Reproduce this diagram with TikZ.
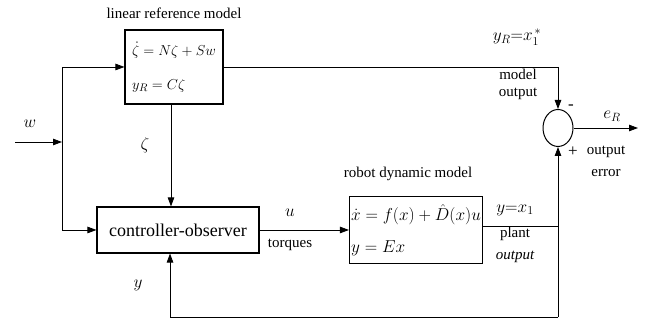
\documentclass[tikz,border=0pt]{standalone}
\usepackage{fontspec}
\setmainfont{Liberation Serif}
\usetikzlibrary{arrows.meta,shapes.geometric}
\tikzset{
  blk/.style={draw, line width=1.1pt, inner sep=1pt},
  lbl/.style={inner sep=0pt, font=\rmfamily\fontsize{15}{16}\selectfont},
  mlbl/.style={inner sep=0pt, font=\rmfamily\fontsize{17}{19}\selectfont},
  conn/.style={line width=0.8pt},
  arr/.style={conn, -{Triangle[length=9pt,width=6.5pt]}},
}
\begin{document}
\begin{tikzpicture}[x=1pt,y=1pt]
\useasboundingbox (0,0) rectangle (650,320);
% blocks
\node[blk, minimum width=98, minimum height=74, inner sep=0pt, align=left, font=\rmfamily\fontsize{15}{22}\selectfont] (refbox) at (174,253)
  {$\dot\zeta = N\zeta + Sw$\\[12pt]$y_R = C\zeta$};
\node[lbl] (reftitle) at (174,307) {linear reference model};
\node[blk, minimum width=162, minimum height=46, font=\rmfamily\fontsize{18}{20}\selectfont] (ctrl) at (178,90) {controller-observer};
\node[blk, minimum width=133, minimum height=67, inner sep=0pt, align=left, font=\rmfamily\fontsize{16.5}{22}\selectfont] (robot) at (416,90)
  {$\dot x = f(x) + \hat D(x)u$\\[10pt]$y = Ex$};
\node[lbl] (robtitle) at (408,146) {robot dynamic model};
\node[draw, ellipse, line width=1pt, minimum width=30, minimum height=37, inner sep=0pt] (sum) at (558,192) {};
% coordinates
\coordinate (win) at (15,178);
\coordinate (br) at (62,178);
\coordinate (zc) at (171,0);
\coordinate (tj) at (558,253);
\coordinate (pj) at (558,94);
\coordinate (bj) at (558,3);
\coordinate (fb) at (170,3);
\coordinate (eout) at (638,192);
% connectors
\draw[arr] (win) -- (br);
\draw[arr] (br) |- (refbox.west);
\draw[arr] (br) |- (ctrl.west);
\draw[arr] (refbox.south -| zc) -- (ctrl.north -| zc);
\draw[arr] (ctrl.east) -- (robot.west);
\draw[conn] (refbox.east) -- (tj);
\draw[arr] (tj) -- (sum.north);
\draw[arr] (sum.east) -- (eout);
\draw[conn] (robot.east |- pj) -- (pj);
\draw[arr] (bj) -- (sum.south);
\draw[arr] (bj) -- (fb) -- (ctrl.south -| fb);
% labels
\node[mlbl] (lw) at (30,196) {$w$};
\node[mlbl] (lz) at (145,175) {$\zeta$};
\node[mlbl] (ly) at (138,35) {$y$};
\node[mlbl] (lu) at (290,107) {$u$};
\node[lbl] (ltq) at (290,75) {torques};
\node[mlbl] (lyr) at (517,283) {$y_R{=}x_1^{\,*}$};
\node[lbl] (lmo1) at (518,246) {model};
\node[lbl] (lmo2) at (518,226) {output};
\node[mlbl] (lyx) at (515,110) {$y{=}x_1$};
\node[lbl] (lpo1) at (515,86) {plant};
\node[lbl] (lpo2) at (515,63) {\itshape output};
\node[mlbl] (lm) at (571,213) {-};
\node[mlbl] (lp) at (573,168) {+};
\node[mlbl] (ler) at (612,204) {$e_R$};
\node[lbl] (loe1) at (606,168) {output};
\node[lbl] (loe2) at (606,147) {error};
\end{tikzpicture}
\end{document}
